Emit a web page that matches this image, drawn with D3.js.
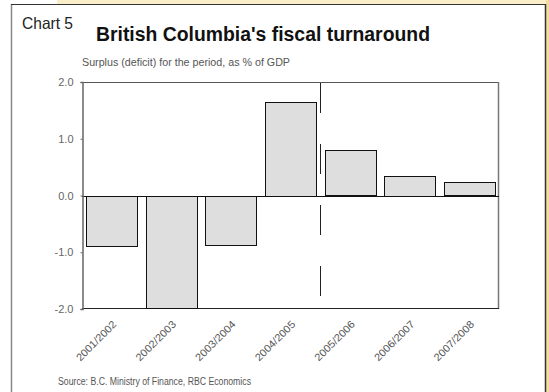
<!DOCTYPE html>
<html><head><meta charset="utf-8">
<script src="https://cdn.jsdelivr.net/npm/d3@7"></script>
<style>
html,body{margin:0;padding:0;background:#fff;}
svg{display:block;}
text{font-family:"Liberation Sans Narrow","Arial Narrow","Liberation Sans",sans-serif;}
</style></head>
<body>
<script>
const categories = ["2001/2002","2002/2003","2003/2004","2004/2005","2005/2006","2006/2007","2007/2008"];
const values = [-0.88, -1.98, -0.86, 1.65, 0.80, 0.35, 0.235];
const yTicks = [2.0, 1.0, 0.0, -1.0, -2.0];
const dividerAfter = "2004/2005";

const W = 549, H = 392;
const svg = d3.select("body").append("svg").attr("width", W).attr("height", H);

// background frame
svg.append("rect").attr("x",57).attr("y",0).attr("width",W-57).attr("height",4).attr("fill","#fbefc9");
svg.append("rect").attr("x",546).attr("y",0).attr("width",3).attr("height",H).attr("fill","#f3dca0");
svg.append("line").attr("x1",11.5).attr("x2",11.5).attr("y1",4).attr("y2",H).attr("stroke","#888").attr("stroke-width",1.5);
svg.append("line").attr("x1",11).attr("x2",546).attr("y1",4.5).attr("y2",4.5).attr("stroke","#333").attr("stroke-width",1);
svg.append("line").attr("x1",545.5).attr("x2",545.5).attr("y1",4).attr("y2",H).attr("stroke","#333").attr("stroke-width",1.5);

// texts
svg.append("text").attr("x",22).attr("y",29).attr("font-size",16.5).attr("fill","#222")
  .attr("textLength",51).attr("lengthAdjust","spacingAndGlyphs").text("Chart 5");
svg.append("text").attr("x",96).attr("y",41).attr("font-size",19.5).attr("font-weight","bold").attr("fill","#111")
  .style("font-family","'Liberation Sans',sans-serif")
  .attr("textLength",334).attr("lengthAdjust","spacingAndGlyphs").text("British Columbia's fiscal turnaround");
svg.append("text").attr("x",82).attr("y",66).attr("font-size",10.5).attr("fill","#555")
  .attr("textLength",208).attr("lengthAdjust","spacingAndGlyphs").text("Surplus (deficit) for the period, as % of GDP");
svg.append("text").attr("x",58).attr("y",385).attr("font-size",10).attr("fill","#555")
  .attr("textLength",193).attr("lengthAdjust","spacingAndGlyphs").text("Source:  B.C. Ministry of Finance, RBC Economics");

const pL = 82, pR = 499, pT = 82, pB = 309;
const x = d3.scaleBand().domain(categories).range([pL, pR]).paddingInner(0.145).paddingOuter(0.07);
const y = d3.scaleLinear().domain([-2, 2]).range([pB, pT]);

// plot frame
const g = svg.append("g");
g.append("line").attr("x1",pL).attr("x2",pR).attr("y1",pT+0.5).attr("y2",pT+0.5).attr("stroke","#555");
g.append("line").attr("x1",pR-0.5).attr("x2",pR-0.5).attr("y1",pT).attr("y2",pB).attr("stroke","#777").attr("stroke-width",1.5);
g.append("line").attr("x1",pL).attr("x2",pR).attr("y1",pB-0.5).attr("y2",pB-0.5).attr("stroke","#222");

// bars
g.selectAll("rect.bar").data(values).join("rect").attr("class","bar")
  .attr("x",(d,i)=>Math.round(x(categories[i]))+0.5)
  .attr("width",Math.round(x.bandwidth()))
  .attr("y",d=>Math.round(y(Math.max(0,d)))+0.5)
  .attr("height",d=>Math.round(Math.abs(y(d)-y(0))))
  .attr("fill","#dedede").attr("stroke","#111").attr("stroke-width",1);

// zero line
g.append("line").attr("x1",pL).attr("x2",pR).attr("y1",Math.round(y(0))+0.5).attr("y2",Math.round(y(0))+0.5).attr("stroke","#111");

// y axis
const yAxis = d3.axisLeft(y).tickValues(yTicks).tickFormat(d => d.toFixed(1)).tickSize(2).tickPadding(7);
const ya = svg.append("g").attr("transform",`translate(${pL+0.5},0)`).call(yAxis);
ya.select(".domain").attr("stroke","#666").attr("stroke-width",1.5);
ya.selectAll(".tick line").attr("stroke","#666");
ya.selectAll("text").attr("fill","#666").attr("font-size",11).attr("font-family","Liberation Sans, sans-serif");

// x axis labels
const xa = svg.append("g").attr("transform",`translate(0,${pB})`).call(d3.axisBottom(x).tickSize(0).tickPadding(0));
xa.select(".domain").remove();
xa.selectAll("text").attr("fill","#555").attr("font-size",10.5)
  .attr("text-anchor","end").attr("dy",null).attr("y",0)
  .attr("textLength",52).attr("lengthAdjust","spacingAndGlyphs")
  .attr("transform","translate(5.5,16) rotate(-45)");

// dashed divider
const dx = x(dividerAfter) + x.bandwidth() + x.step()*x.paddingInner()/2;
svg.append("line").attr("x1",Math.round(dx)+0.5).attr("x2",Math.round(dx)+0.5).attr("y1",83).attr("y2",298)
  .attr("stroke","#222").attr("stroke-width",1).attr("stroke-dasharray","30,31");
</script>
</body></html>
